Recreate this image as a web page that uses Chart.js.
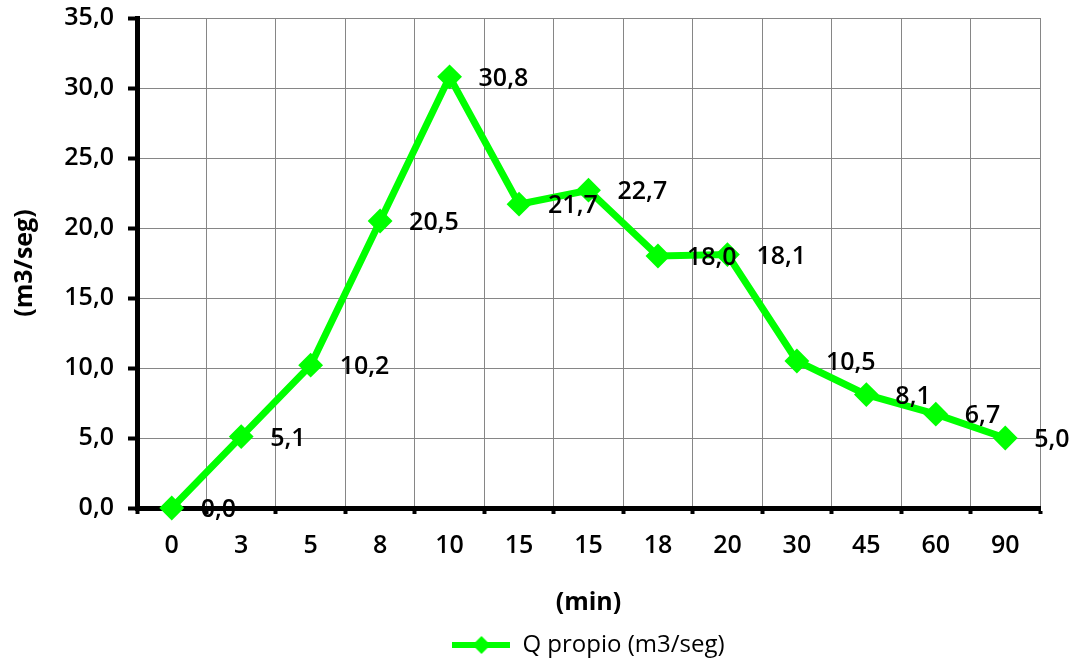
<!DOCTYPE html>
<html lang="es">
<head>
  <meta charset="UTF-8">
  <title>Q propio (m3/seg)</title>
  <script src="https://cdn.jsdelivr.net/npm/chart.js"></script>
  <style>
    html, body { margin: 0; padding: 0; background: #fff; }
    #wrap { width: 1072px; height: 659px; }
  </style>
</head>
<body>
  <div id="wrap"><canvas id="grafico" width="1072" height="659"></canvas></div>

  <script>
    // Datos del hidrograma
    const tiempos = ['0', '3', '5', '8', '10', '15', '15', '18', '20', '30', '45', '60', '90'];
    const caudal = [0.0, 5.1, 10.2, 20.5, 30.8, 21.7, 22.7, 18.0, 18.1, 10.5, 8.1, 6.7, 5.0];
    const verde = '#00ff00';

    const coma = v => Number(v).toFixed(1).replace('.', ',');

    // simbolo de la leyenda: linea con rombo
    const simbolo = document.createElement('canvas');
    simbolo.width = 58;
    simbolo.height = 22;
    const sc = simbolo.getContext('2d');
    sc.strokeStyle = verde;
    sc.fillStyle = verde;
    sc.lineWidth = 6;
    sc.beginPath();
    sc.moveTo(0, 11);
    sc.lineTo(58, 11);
    sc.stroke();
    sc.beginPath();
    sc.moveTo(29, 2);
    sc.lineTo(38, 11);
    sc.lineTo(29, 20);
    sc.lineTo(20, 11);
    sc.closePath();
    sc.fill();

    // etiquetas de valor a la derecha de cada punto
    const etiquetas = {
      id: 'etiquetas',
      afterDatasetsDraw(chart) {
        const ctx = chart.ctx;
        const meta = chart.getDatasetMeta(0);
        ctx.save();
        ctx.font = '600 25px "Open Sans"';
        ctx.fillStyle = '#000';
        ctx.textAlign = 'left';
        ctx.textBaseline = 'middle';
        meta.data.forEach((pt, i) => {
          ctx.fillText(coma(caudal[i]), pt.x + 29, pt.y + 2);
        });
        ctx.restore();
      }
    };

    new Chart(document.getElementById('grafico'), {
      type: 'line',
      data: {
        labels: tiempos,
        datasets: [{
          label: 'Q propio (m3/seg)',
          data: caudal,
          borderColor: verde,
          backgroundColor: verde,
          borderWidth: 7,
          tension: 0,
          pointStyle: 'rectRot',
          pointRadius: 11,
          pointBorderWidth: 2,
          clip: false
        }]
      },
      options: {
        responsive: false,
        animation: false,
        layout: { padding: { top: 18, right: 32, left: 0, bottom: -8 } },
        plugins: {
          tooltip: { enabled: false },
          legend: {
            position: 'bottom',
            fullSize: false,
            labels: {
              usePointStyle: true,
              pointStyleWidth: 58,
              padding: 6,
              color: '#000',
              font: { family: 'Open Sans', size: 24 },
              generateLabels: chart => chart.data.datasets.map((ds, i) => ({
                text: ds.label,
                pointStyle: simbolo,
                fillStyle: verde,
                strokeStyle: verde,
                lineWidth: 0,
                datasetIndex: i
              }))
            }
          }
        },
        scales: {
          x: {
            offset: true,
            grid: {
              offset: true,
              color: '#868686',
              lineWidth: 1,
              tickColor: '#000',
              tickWidth: 4,
              tickLength: 6
            },
            border: { color: '#000', width: 5 },
            ticks: {
              color: '#000',
              padding: 17,
              maxRotation: 0,
              font: { family: 'Open Sans', size: 25, weight: '600' }
            },
            title: {
              display: true,
              text: '(min)',
              color: '#000',
              padding: { top: 0, bottom: 9 },
              font: { family: 'Open Sans', size: 25, weight: 'bold' }
            },
            afterFit: s => { s.height = 119; }
          },
          y: {
            min: 0,
            max: 35,
            ticks: {
              stepSize: 5,
              color: '#000',
              padding: 14,
              callback: v => coma(v),
              font: { family: 'Open Sans', size: 25, weight: '600' }
            },
            grid: {
              color: '#868686',
              lineWidth: 1,
              tickColor: '#000',
              tickWidth: 4,
              tickLength: 9
            },
            border: { color: '#000', width: 5 },
            title: {
              display: true,
              text: '(m3/seg)',
              color: '#000',
              padding: { top: 10, bottom: 0 },
              font: { family: 'Open Sans', size: 25, weight: 'bold' }
            },
            afterFit: s => {
              s.width = 137;
              s.paddingTop = 0;
              s.paddingBottom = 0;
            }
          }
        }
      },
      plugins: [etiquetas]
    });
  </script>
</body>
</html>
